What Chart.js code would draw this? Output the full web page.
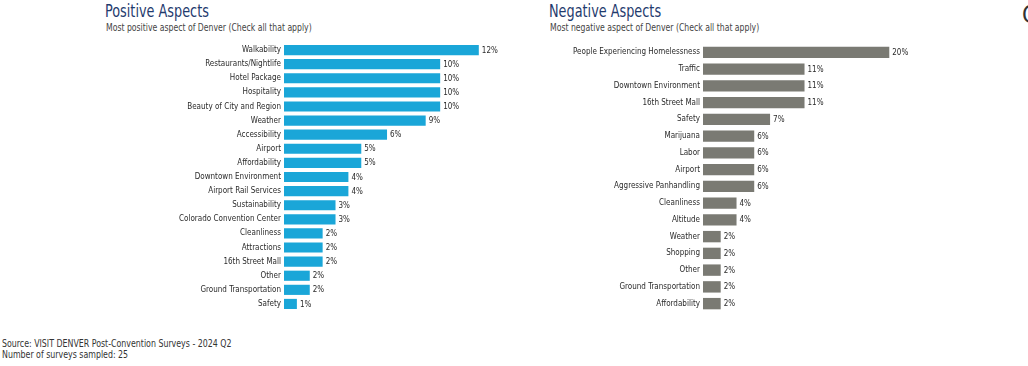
<!DOCTYPE html>
<html>
<head>
<meta charset="utf-8">
<script src="https://cdn.jsdelivr.net/npm/chart.js@4.4.0/dist/chart.umd.min.js"></script>
<style>
  body { margin: 0; background: #fff; width: 1028px; height: 366px; position: relative; overflow: hidden;
         font-family: 'DejaVu Sans Condensed', sans-serif; }
  .title { position: absolute; font-size: 17px; color: #1f3b6e; transform: scaleX(0.84); transform-origin: left top; white-space: nowrap; }
  .sub { position: absolute; font-size: 10px; color: #444; transform: scaleX(0.86); transform-origin: left top; white-space: nowrap; }
  .box { position: absolute; }
  .foot { position: absolute; left: 2px; top: 338px; font-size: 10px; line-height: 11px; color: #333;
          transform: scaleX(0.875); transform-origin: left top; white-space: nowrap; }
  .edge { position: absolute; left: 1022px; top: 1px; font-size: 24px; color: #333; }
</style>
</head>
<body>
<div class="title" style="left:105px; top:1px;">Positive Aspects</div>
<div class="sub" style="left:106px; top:22px;">Most positive aspect of Denver (Check all that apply)</div>
<div class="title" style="left:549px; top:1px;">Negative Aspects</div>
<div class="sub" style="left:550px; top:22px;">Most negative aspect of Denver (Check all that apply)</div>
<div class="box" style="left:100px; top:43px; width:506px; height:268px;"><canvas id="pos"></canvas></div>
<div class="box" style="left:540px; top:44px; width:489px; height:268px;"><canvas id="neg"></canvas></div>
<div class="foot">Source: VISIT DENVER Post-Convention Surveys - 2024 Q2<br>Number of surveys sampled: 25</div>
<div class="edge">C</div>
<script>
const posCategories = ['Walkability', 'Restaurants/Nightlife', 'Hotel Package', 'Hospitality',
  'Beauty of City and Region', 'Weather', 'Accessibility', 'Airport', 'Affordability',
  'Downtown Environment', 'Airport Rail Services', 'Sustainability', 'Colorado Convention Center',
  'Cleanliness', 'Attractions', '16th Street Mall', 'Other', 'Ground Transportation', 'Safety'];
const posValues = [12.1, 9.7, 9.7, 9.7, 9.7, 8.8, 6.4, 4.8, 4.8, 4.0, 4.0, 3.2, 3.2, 2.4, 2.4, 2.4, 1.6, 1.6, 0.8];

const negCategories = ['People Experiencing Homelessness', 'Traffic', 'Downtown Environment',
  '16th Street Mall', 'Safety', 'Marijuana', 'Labor', 'Airport', 'Aggressive Panhandling',
  'Cleanliness', 'Altitude', 'Weather', 'Shopping', 'Other', 'Ground Transportation', 'Affordability'];
const negValues = [20.0, 10.9, 10.9, 10.9, 7.2, 5.5, 5.5, 5.5, 5.5, 3.6, 3.6, 1.9, 1.9, 1.9, 1.9, 1.9];

const FONT = "'DejaVu Sans Condensed', sans-serif";

// draw the percent labels at the end of each bar
const valueLabels = {
  id: 'valueLabels',
  afterDatasetsDraw(chart) {
    const ctx = chart.ctx;
    ctx.save();
    ctx.font = '8px ' + FONT;
    ctx.fillStyle = '#2a2a2a';
    ctx.textBaseline = 'middle';
    chart.getDatasetMeta(0).data.forEach((bar, i) => {
      const v = chart.data.datasets[0].data[i];
      ctx.fillText(Math.round(v) + '%', bar.x + 3, bar.y + 0.5);
    });
    ctx.restore();
  }
};

function makeChart(id, labels, values, color, axisWidth, xMax, barPct) {
  return new Chart(document.getElementById(id), {
    type: 'bar',
    data: {
      labels: labels,
      datasets: [{ data: values, backgroundColor: color, borderWidth: 0,
                   barPercentage: barPct, categoryPercentage: 1 }]
    },
    options: {
      indexAxis: 'y',
      responsive: true,
      maintainAspectRatio: false,
      animation: false,
      layout: { padding: 0 },
      plugins: { legend: { display: false }, tooltip: { enabled: false } },
      scales: {
        x: { display: false, min: 0, max: xMax },
        y: {
          grid: { display: false, drawTicks: false },
          border: { display: false },
          ticks: { color: '#2a2a2a', padding: 3, autoSkip: false, font: { size: 8, family: FONT } },
          afterFit(scale) {
            scale.width = axisWidth;
            scale.paddingTop = 0;
            scale.paddingBottom = 0;
          }
        }
      }
    },
    plugins: [valueLabels]
  });
}

makeChart('pos', posCategories, posValues, '#1aa6d8', 184, 20, 0.72);
makeChart('neg', negCategories, negValues, '#7a7a73', 163, 35, 0.68);
</script>
</body>
</html>
